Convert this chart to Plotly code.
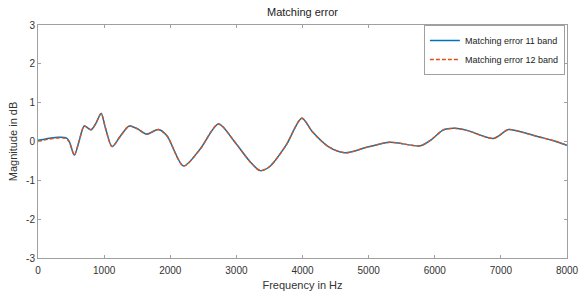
import plotly.graph_objects as go

freq = [0, 100, 200, 300, 420, 470, 550, 620, 700, 800, 870, 955, 1020, 1120, 1250,
        1380, 1500, 1645, 1820, 1950, 2200, 2450, 2730, 2970, 3207, 3360, 3500, 3750,
        3990, 4150, 4390, 4645, 4970, 5325, 5780, 5950, 6130, 6300, 6500, 6890, 7115,
        7300, 7570, 7800, 8000]

err12 = [0.0, 0.04, 0.07, 0.09, 0.08, 0.0, -0.35, 0.0, 0.40, 0.30, 0.45, 0.72, 0.35,
         -0.13, 0.15, 0.40, 0.33, 0.19, 0.31, 0.15, -0.63, -0.20, 0.45, 0.0, -0.52,
         -0.75, -0.65, -0.10, 0.60, 0.25, -0.13, -0.29, -0.15, -0.02, -0.11, 0.05,
         0.30, 0.34, 0.28, 0.08, 0.31, 0.25, 0.12, 0.02, -0.10]

err11 = [0.03, 0.06, 0.09, 0.11, 0.10, 0.01, -0.35, 0.0, 0.40, 0.30, 0.45, 0.72, 0.35,
         -0.13, 0.15, 0.40, 0.33, 0.19, 0.31, 0.15, -0.63, -0.20, 0.45, 0.0, -0.52,
         -0.75, -0.65, -0.10, 0.60, 0.25, -0.13, -0.29, -0.15, -0.02, -0.11, 0.05,
         0.30, 0.34, 0.28, 0.08, 0.31, 0.25, 0.12, 0.02, -0.10]

xticks = [0, 1000, 2000, 3000, 4000, 5000, 6000, 7000, 8000]
yticks = [-3, -2, -1, 0, 1, 2, 3]

fig = go.Figure()
fig.add_trace(go.Scatter(x=freq, y=err11, mode="lines", name="Matching error 11 band",
                         line=dict(color="#0072BD", width=1.5, shape="spline", smoothing=0.8)))
fig.add_trace(go.Scatter(x=freq, y=err12, mode="lines", name="Matching error 12 band",
                         line=dict(color="#D95319", width=1.4, dash="4px,2px", shape="spline", smoothing=0.8)))

axis_common = dict(showgrid=False, zeroline=False, showline=True, linecolor="#a0a0a0",
                   linewidth=1, mirror="ticks", ticks="inside", ticklen=3, tickcolor="#a0a0a0",
                   tickfont=dict(size=10, color="#333"), automargin=False)
fig.update_xaxes(range=[0, 8000], tickvals=xticks, ticktext=[str(v) for v in xticks],
                 ticklabelstandoff=3,
                 title=dict(text="Frequency in Hz", font=dict(size=11, color="#333"), standoff=6),
                 **axis_common)
fig.update_yaxes(range=[-3, 3], tickvals=yticks, ticktext=[str(v) for v in yticks],
                 title=dict(text="Magnitude in dB", font=dict(size=11, color="#333"), standoff=6),
                 **axis_common)

fig.update_layout(
    width=581, height=291,
    margin=dict(l=38, r=14, t=25, b=33, autoexpand=False),
    paper_bgcolor="white", plot_bgcolor="white",
    font=dict(family="Liberation Sans, Arial, sans-serif", size=10, color="#333"),
    title=dict(text="Matching error", x=0.5, xref="paper", xanchor="center",
               y=1 - 12 / 291, yanchor="middle", font=dict(size=11, color="#222")),
    legend=dict(x=0.996, y=1.0, xanchor="right", yanchor="top", bgcolor="white",
                bordercolor="#a0a0a0", borderwidth=1, font=dict(size=9, color="#222"),
                tracegroupgap=0, itemwidth=30),
    showlegend=True,
)

fig.write_html("out.html", config={"displayModeBar": False},
               post_script="document.body.style.margin='0';document.body.style.padding='0';")
